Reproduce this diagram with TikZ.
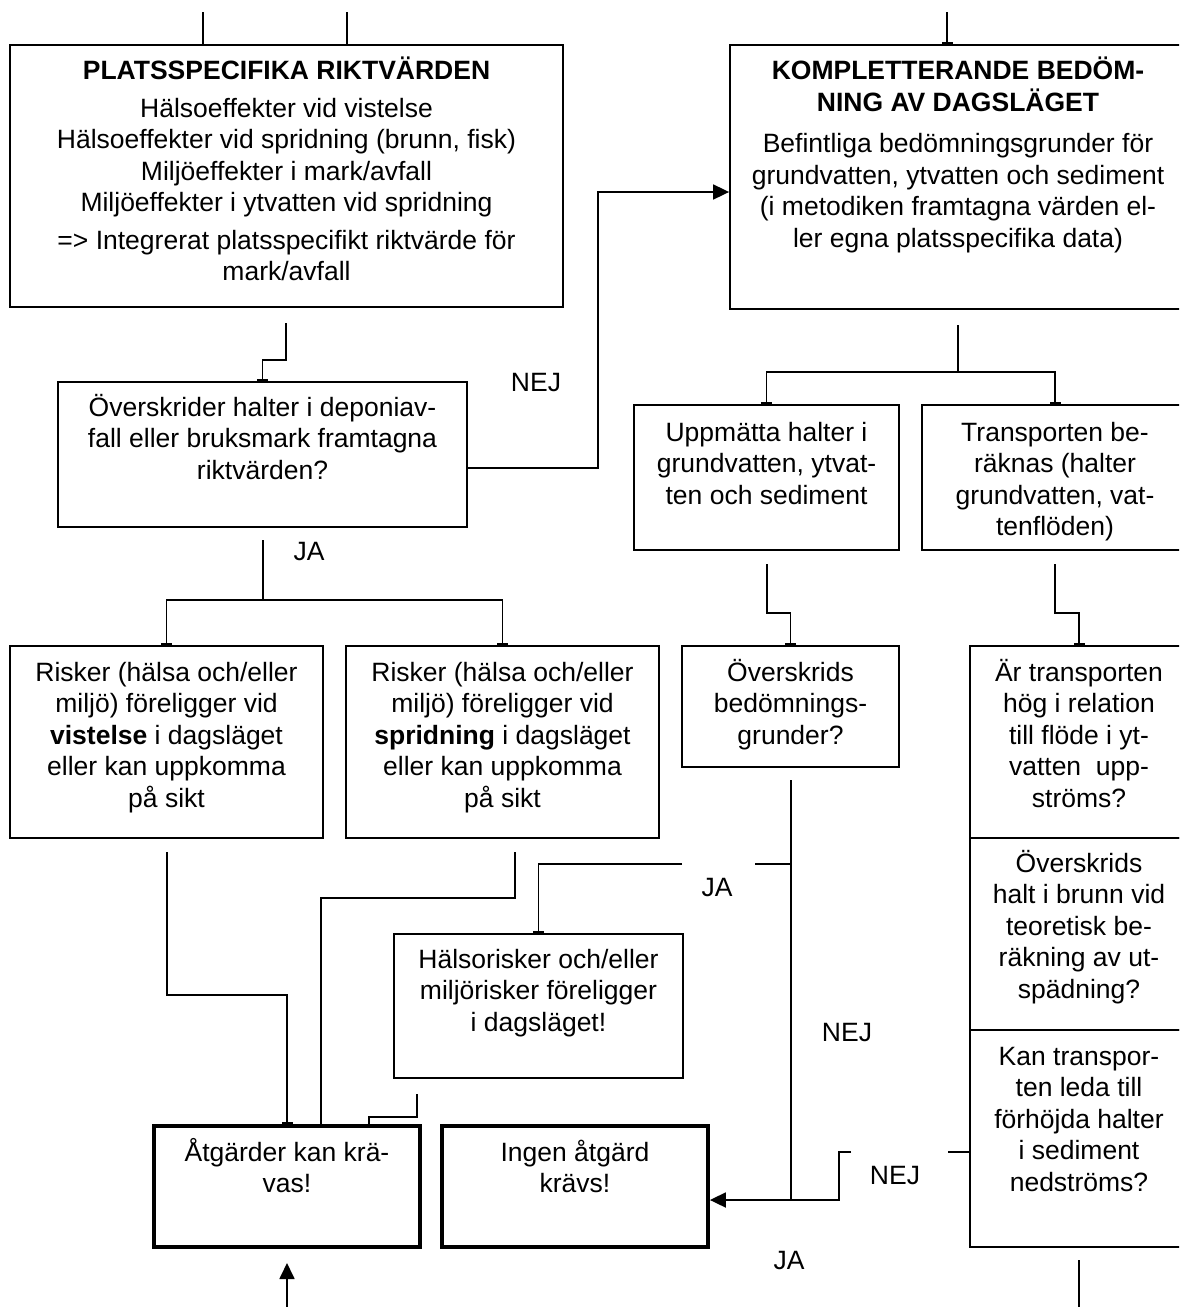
\documentclass[tikz,border=0pt]{standalone}
\usepackage{fontspec}
\setmainfont{Liberation Sans}
\usetikzlibrary{arrows.meta,fit}
% centred block of lines whose baseline is that of its first line
\newcommand\txtlines[1]{\begin{tabular}[t]{@{}c@{}}#1\end{tabular}}
\begin{document}
\begin{tikzpicture}[x=1pt,y=-1pt,
  box/.style={draw, line width=1.8pt, inner sep=0pt},
  thickbox/.style={draw, line width=3.8pt, inner sep=0pt},
  txt/.style={inner sep=0pt, anchor=base, font=\fontsize{26.5}{31.5}\selectfont},
  lbl/.style={inner sep=0pt, font=\fontsize{26.5}{31.5}\selectfont},
  conn/.style={line width=1.8pt},
  tick/.style={conn, -{Bar[width=11pt,line width=2.4pt]}},
  arr/.style={conn, -{Triangle[length=16pt,width=15pt]}}
]
\useasboundingbox (0,0) rectangle (1179,1307);
\fill[white] (0,0) rectangle (1179,1307);
\clip (0,0) rectangle (1179,1307);

% ---- boxes ----
\node[box, fit={(10,45) (563,307)}] (A) {};
\node[box, fit={(730,45) (1188,309)}] (B) {};
\node[box, fit={(58,382) (467,527)}] (C) {};
\node[box, fit={(634,405) (899,550)}] (D) {};
\node[box, fit={(922,405) (1188,550)}] (E) {};
\node[box, fit={(10,646) (323,838)}] (J) {};
\node[box, fit={(346,646) (659,838)}] (K) {};
\node[box, fit={(682,646) (899,767)}] (F) {};
\node[box, fit={(970,646) (1188,838)}] (G) {};
\node[box, fit={(970,838) (1188,1030)}] (H) {};
\node[box, fit={(970,1030) (1188,1247)}] (I) {};
\node[box, fit={(394,934) (683,1078)}] (M) {};
\node[thickbox, fit={(154,1126) (420,1247)}] (L) {};
\node[thickbox, fit={(442,1126) (708,1247)}] (N) {};

% ---- box texts ----
\node[txt] (A-t) at (286.5,79) {\txtlines{\textbf{PLATSSPECIFIKA RIKTVÄRDEN}\\[6.5pt]
  Hälsoeffekter vid vistelse\\ Hälsoeffekter vid spridning (brunn, fisk)\\
  Miljöeffekter i mark/avfall\\ Miljöeffekter i ytvatten vid spridning\\[6pt]
  => Integrerat platsspecifikt riktvärde för\\ mark/avfall}};
\node[txt] (B-t) at (958,79) {\txtlines{\textbf{KOMPLETTERANDE BEDÖM-}\\ \textbf{NING AV DAGSLÄGET}\\[10pt]
  Befintliga bedömningsgrunder för\\ grundvatten, ytvatten och sediment\\
  (i metodiken framtagna värden el-\\ ler egna platsspecifika data)}};
\node[txt] (C-t) at (262.5,416) {\txtlines{Överskrider halter i deponiav-\\ fall eller bruksmark framtagna\\ riktvärden?}};
\node[txt] (D-t) at (766.5,441) {\txtlines{Uppmätta halter i\\ grundvatten, ytvat-\\ ten och sediment}};
\node[txt] (E-t) at (1055,441) {\txtlines{Transporten be-\\ räknas (halter\\ grundvatten, vat-\\ tenflöden)}};
\node[txt] (J-t) at (166.5,681) {\txtlines{Risker (hälsa och/eller\\ miljö) föreligger vid\\ \textbf{vistelse} i dagsläget\\ eller kan uppkomma\\ på sikt}};
\node[txt] (K-t) at (502.5,681) {\txtlines{Risker (hälsa och/eller\\ miljö) föreligger vid\\ \textbf{spridning} i dagsläget\\ eller kan uppkomma\\ på sikt}};
\node[txt] (F-t) at (790.5,681) {\txtlines{Överskrids\\ bedömnings-\\ grunder?}};
\node[txt] (G-t) at (1079,681) {\txtlines{Är transporten\\ hög i relation\\ till flöde i yt-\\ vatten\ \ upp-\\ ströms?}};
\node[txt] (H-t) at (1079,872) {\txtlines{Överskrids\\ halt i brunn vid\\ teoretisk be-\\ räkning av ut-\\ spädning?}};
\node[txt] (I-t) at (1079,1065) {\txtlines{Kan transpor-\\ ten leda till\\ förhöjda halter\\ i sediment\\ nedströms?}};
\node[txt] (M-t) at (538.5,968) {\txtlines{Hälsorisker och/eller\\ miljörisker föreligger\\ i dagsläget!}};
\node[txt] (L-t) at (287,1161) {\txtlines{Åtgärder kan krä-\\ vas!}};
\node[txt] (N-t) at (575,1161) {\txtlines{Ingen åtgärd\\ krävs!}};

% ---- answer labels ----
\node[lbl] (nej1) at (536,383) {NEJ};
\node[lbl] (ja1) at (309,552) {JA};
\node[lbl] (ja2) at (717,888) {JA};
\node[lbl] (nej2) at (847,1032) {NEJ};
\node[lbl] (nej3) at (895,1175) {NEJ};
\node[lbl] (ja3) at (789,1260) {JA};

% ---- connectors ----
\coordinate (tA1) at (203,12);
\coordinate (tA2) at (347,12);
\coordinate (tB) at (947,12);
\draw[conn] (tA1) -- (tA1 |- A.north);
\draw[conn] (tA2) -- (tA2 |- A.north);
\draw[tick] (tB) -- (tB |- B.north);

\coordinate (a1) at (286,323);
\draw[tick] (a1) -- ++(0,37) -| (C.north);

\draw[arr] (C.east |- 0,468) -| (598,192) -- (B.west |- 0,192);

\coordinate (c1) at (263,540);
\coordinate (cSplit) at (263,600);
\draw[conn] (c1) -- (cSplit);
\draw[tick] (cSplit) -| (J.north);
\draw[tick] (cSplit) -| (K.north);

\coordinate (b1) at (958,325);
\coordinate (bSplit) at (958,372);
\draw[conn] (b1) -- (bSplit);
\draw[tick] (bSplit) -| (D.north);
\draw[tick] (bSplit) -| (E.north);

\coordinate (d1) at (767,564);
\draw[tick] (d1) -- ++(0,49) -| (F.north);
\coordinate (e1) at (1055,564);
\draw[tick] (e1) -- ++(0,49) -| (G.north);

\coordinate (j1) at (167,852);
\draw[tick] (j1) -- ++(0,143) -| (L.north);
\coordinate (k1) at (515,852);
\draw[conn] (k1) |- (321,898) -- (L.north -| 321,0);

\coordinate (f1) at (791,780);
\coordinate (fJA) at (791,864);
\coordinate (fN) at (791,1200);
\draw[conn] (f1) -- (fN);
\draw[arr] (fN) -- (N.east |- fN);
\draw[conn] (fJA) -- (755,864);
\coordinate (m0) at (682,864);
\draw[tick] (m0) -| (M.north);

\coordinate (m1) at (417,1094);
\draw[conn] (m1) |- (369,1117) -- (L.north -| 369,0);

\draw[conn] (I.west |- 0,1152) -- (948,1152);
\coordinate (i2) at (851,1152);
\draw[conn] (i2) -| (839,1200) -- (fN);

\coordinate (i3) at (1079,1260);
\coordinate (i4) at (1079,1312);
\draw[conn] (i3) -- (i4);

\coordinate (lIn) at (287,1312);
\coordinate (lTip) at (287,1263);
\draw[arr] (lIn) -- (lTip);
\end{tikzpicture}
\end{document}
